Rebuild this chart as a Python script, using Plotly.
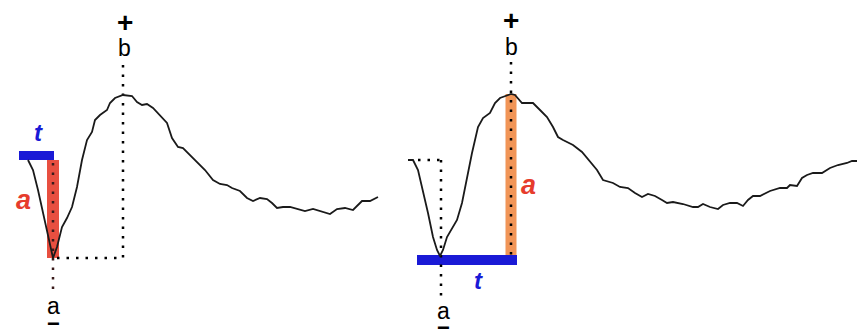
import numpy as np
import plotly.graph_objects as go

# waveform samples, left panel (x = time position, y = amplitude, positive up)
left_x = [28, 33, 38, 43, 48, 53, 57, 62, 67, 72, 77, 82, 87, 92, 95, 100, 107, 110, 115, 120,
          123, 132, 137, 142, 147, 153, 160, 167, 172, 178, 183, 190, 197, 205, 213, 220, 227,
          232, 240, 247, 253, 260, 267, 272, 277, 283, 290, 297, 305, 313, 320, 330, 337, 345,
          353, 362, 370, 378]
left_y = [170, 160, 140, 117, 93, 72, 83, 103, 112, 123, 143, 170, 190, 198, 210, 215, 220, 227,
          232, 234, 235, 234, 228, 225, 226, 222, 215, 207, 192, 183, 182, 175, 168, 160, 150, 146,
          145, 142, 139, 132, 129, 132, 131, 127, 122, 123, 123, 121, 119, 121, 119, 116, 121, 122,
          120, 129, 129, 133]

# waveform samples, right panel
right_x = [408, 413, 418, 423, 428, 433, 437, 440, 443, 447, 452, 457, 462, 467, 472, 478, 483,
           490, 495, 500, 507, 511, 515, 522, 527, 533, 540, 547, 553, 558, 563, 573, 582, 590,
           597, 603, 613, 620, 628, 635, 642, 648, 655, 662, 667, 673, 683, 693, 698, 703, 710,
           718, 723, 730, 737, 743, 748, 753, 760, 770, 780, 787, 790, 797, 802, 807, 813, 822,
           830, 838, 847, 852, 857]
right_y = [170, 170, 160, 140, 117, 93, 80, 74, 80, 93, 102, 110, 127, 153, 177, 203, 212, 217,
           227, 232, 235, 236, 235, 227, 227, 227, 220, 213, 203, 193, 190, 185, 178, 168, 160,
           150, 147, 143, 142, 137, 133, 136, 134, 130, 127, 128, 126, 123, 123, 126, 123, 121,
           125, 127, 127, 124, 130, 134, 134, 139, 142, 142, 145, 144, 152, 155, 157, 157, 162,
           165, 167, 169, 169]

# measurement spans
left_t_start = 19
right_t_start = 417
label_top = ["+", "b"]
label_bottom = ["a", "\u2212"]

BLUE = "#1a1ad6"
RED = "#e63c2c"
ORANGE = "#f08a45"
DOTS = "2.5px,7px"

fig = go.Figure()


def seg(x, y, color, width, dash=None, opacity=1.0):
    fig.add_trace(go.Scatter(x=x, y=y, mode="lines", opacity=opacity, hoverinfo="skip",
                             line=dict(color=color, width=width, dash=dash), showlegend=False))


def label(x, y, text, size, color="black", italic=False, bold=False):
    t = text
    if bold:
        t = "<b>" + t + "</b>"
    if italic:
        t = "<i>" + t + "</i>"
    fig.add_annotation(x=x, y=y, text=t, showarrow=False, xanchor="center", yanchor="middle",
                       font=dict(family="Liberation Sans, Arial", size=size, color=color))


# ---- left panel: t = onset to trough, a = baseline to trough
lx, ly = np.array(left_x), np.array(left_y)
lt, lp = ly.argmin(), ly.argmax()
l_base = ly[0]
seg([lx[lt], lx[lt]], [l_base, ly[lt]], RED, 12, opacity=0.9)
seg([left_t_start, lx[lt] + 1], [l_base + 4.5, l_base + 4.5], BLUE, 9)
seg([lx[lp], lx[lp]], [265, ly[lt]], "black", 2.5, DOTS)
seg([lx[lt] + 4, lx[lp]], [ly[lt], ly[lt]], "black", 2.5, DOTS)
seg([lx[lt], lx[lt]], [l_base - 3, 38], "#3a1a1a", 2.5, DOTS)
seg(left_x, left_y, "#1a1a1a", 1.8)
label(lx[lp] + 2, 308, label_top[0], 28, bold=True)
label(lx[lp] + 1, 282, label_top[1], 23)
label(lx[lt], 24, label_bottom[0], 23)
label(lx[lt], 7, label_bottom[1], 22, bold=True)
label(38, 198, "t", 24, BLUE, italic=True, bold=True)
label(23, 130, "a", 27, RED, italic=True, bold=True)

# ---- right panel: t = trough to peak, a = trough to peak
rx, ry = np.array(right_x), np.array(right_y)
rt, rp = ry.argmin(), ry.argmax()
r_base = ry[0]
seg([rx[rp], rx[rp]], [ry[rt] + 1, ry[rp]], ORANGE, 11, opacity=0.9)
seg([right_t_start, rx[rp] + 6], [ry[rt] - 4, ry[rt] - 4], BLUE, 10)
seg([rx[rp], rx[rp]], [268, ry[rt] + 1], "black", 2.5, DOTS)
seg([rx[1] + 5, rx[rt]], [r_base, r_base], "black", 2.5, DOTS)
seg([rx[rt] + 1, rx[rt] + 1], [r_base, 32], "black", 2.5, DOTS)
seg(right_x, right_y, "#1a1a1a", 1.8)
label(rx[rp], 310, label_top[0], 28, bold=True)
label(rx[rp], 283, label_top[1], 23)
label(rx[rt] + 3, 19, label_bottom[0], 23)
label(rx[rt] + 3, 3, label_bottom[1], 22, bold=True)
label(478, 50, "t", 24, BLUE, italic=True, bold=True)
label(528, 145, "a", 27, RED, italic=True, bold=True)

fig.update_layout(width=857, height=330, margin=dict(l=0, r=0, t=0, b=0),
                  plot_bgcolor="white", paper_bgcolor="white")
fig.update_xaxes(range=[0, 857], visible=False, showgrid=False)
fig.update_yaxes(range=[0, 330], visible=False, showgrid=False)
fig.write_html("out.html", config={"displayModeBar": False},
               post_script="document.body.style.margin='0';document.body.style.overflow='hidden';")
